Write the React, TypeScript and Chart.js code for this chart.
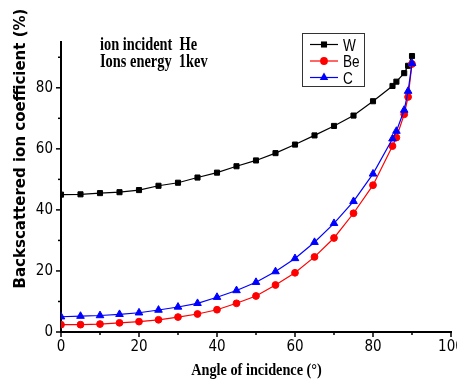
import React, { useEffect, useRef } from 'react';
import { Chart, registerables } from 'chart.js';

Chart.register(...registerables);

const angles = [0, 5, 10, 15, 20, 25, 30, 35, 40, 45, 50, 55, 60, 65, 70, 75, 80, 85, 86, 88, 89, 90];
const wValues = [45.0, 45.1, 45.5, 45.8, 46.5, 47.9, 48.9, 50.6, 52.2, 54.3, 56.2, 58.6, 61.4, 64.4, 67.5, 70.9, 75.6, 80.6, 82.0, 84.8, 87.2, 90.4];
const beValues = [2.4, 2.4, 2.6, 3.0, 3.4, 4.0, 4.9, 5.9, 7.3, 9.4, 11.8, 15.4, 19.4, 24.6, 30.8, 38.9, 48.1, 60.9, 63.7, 71.3, 77.0, 87.8];
const cValues = [5.0, 5.2, 5.4, 5.8, 6.3, 7.2, 8.2, 9.4, 11.4, 13.6, 16.3, 19.8, 24.1, 29.4, 35.6, 42.8, 51.8, 63.3, 65.8, 72.7, 78.9, 88.0];

const seriesNames = ['W', 'Be', 'C'];
const seriesColors = ['#000000', '#ff0000', '#0000ff'];
const seriesMarkers = ['rect', 'circle', 'triangle'];
const seriesRadius = [3.6, 3.4, 4.4];

const xMin = 0;
const xMax = 100;
const yMin = 0;
const yMax = 95;
const annotationLines = ['ion incident  He', 'Ions energy  1kev'];
const xTitle = 'Angle of incidence (°)';
const yTitle = 'Backscattered ion coefficient (%)';

const tickFont = "'Liberation Sans Narrow', 'DejaVu Sans Condensed', 'Liberation Sans', sans-serif";

function drawScaledText(ctx: CanvasRenderingContext2D, text: string, x: number, y: number, font: string, sx: number, align: CanvasTextAlign) {
  ctx.save();
  ctx.font = font;
  ctx.translate(x, y);
  ctx.scale(sx, 1);
  ctx.textAlign = align;
  ctx.textBaseline = 'alphabetic';
  ctx.fillStyle = '#000';
  ctx.fillText(text, 0, 0);
  ctx.restore();
}

function drawMarker(ctx: CanvasRenderingContext2D, style: string, x: number, y: number, r: number, color: string) {
  ctx.save();
  ctx.fillStyle = color;
  ctx.beginPath();
  if (style === 'rect') {
    const s = r * Math.SQRT1_2 + 0.5;
    ctx.rect(x - s, y - s, 2 * s, 2 * s);
  } else if (style === 'circle') {
    ctx.arc(x, y, r + 0.5, 0, Math.PI * 2);
  } else {
    const rr = r + 0.5;
    ctx.moveTo(x, y - rr);
    ctx.lineTo(x + rr * Math.cos(Math.PI / 6), y + rr / 2);
    ctx.lineTo(x - rr * Math.cos(Math.PI / 6), y + rr / 2);
    ctx.closePath();
  }
  ctx.fill();
  ctx.restore();
}

const decorPlugin = {
  id: 'decor',
  afterDraw(chart: any) {
    const ctx: CanvasRenderingContext2D = chart.ctx;
    const xs = chart.scales.x;
    const ys = chart.scales.y;
    const area = chart.chartArea;

    // tick marks (major / minor)
    ctx.save();
    ctx.strokeStyle = '#000';
    ctx.lineWidth = 1.5;
    xs.ticks.forEach((t: any) => {
      const px = xs.getPixelForValue(t.value);
      const len = t.value % 20 === 0 ? 5 : 3;
      ctx.beginPath();
      ctx.moveTo(px, area.bottom);
      ctx.lineTo(px, area.bottom + len);
      ctx.stroke();
    });
    ys.ticks.forEach((t: any) => {
      const py = ys.getPixelForValue(t.value);
      const len = t.value % 20 === 0 ? 5 : 3;
      ctx.beginPath();
      ctx.moveTo(area.left, py);
      ctx.lineTo(area.left - len, py);
      ctx.stroke();
    });
    ctx.restore();

    // annotation
    drawScaledText(ctx, annotationLines[0], 100, 50, "bold 18px 'Liberation Serif', serif", 0.8, 'left');
    drawScaledText(ctx, annotationLines[1], 100, 66.5, "bold 18px 'Liberation Serif', serif", 0.8, 'left');

    // x title
    drawScaledText(ctx, xTitle, 256.5, 375, "bold 17px 'Liberation Serif', serif", 0.84, 'center');

    // y title
    ctx.save();
    ctx.font = "bold 15px 'DejaVu Sans', sans-serif";
    ctx.fillStyle = '#000';
    ctx.translate(25, 148.5);
    ctx.rotate(-Math.PI / 2);
    ctx.textAlign = 'center';
    ctx.textBaseline = 'alphabetic';
    ctx.fillText(yTitle, 0, 0);
    ctx.restore();

    // legend
    const bx = 302, by = 33, bw = 62, bh = 53;
    ctx.save();
    ctx.fillStyle = '#fff';
    ctx.fillRect(bx, by, bw, bh);
    ctx.strokeStyle = '#333';
    ctx.lineWidth = 1;
    ctx.strokeRect(bx + 0.5, by + 0.5, bw, bh);
    ctx.restore();
    const rowsY = [44.5, 61, 77.5];
    seriesNames.forEach((name, i) => {
      const y = rowsY[i];
      ctx.save();
      ctx.strokeStyle = seriesColors[i];
      ctx.lineWidth = 1.2;
      ctx.beginPath();
      ctx.moveTo(310, y);
      ctx.lineTo(338, y);
      ctx.stroke();
      ctx.restore();
      drawMarker(ctx, seriesMarkers[i], 324, y, seriesRadius[i], seriesColors[i]);
      drawScaledText(ctx, name, 343, y + 6, "17px 'Liberation Sans', sans-serif", 0.8, 'left');
    });
  },
};

export default function App() {
  const ref = useRef<HTMLCanvasElement | null>(null);

  useEffect(() => {
    if (!ref.current) return;
    const series = [wValues, beValues, cValues];
    const chart = new Chart(ref.current, {
      type: 'line',
      data: {
        datasets: series.map((vals, i) => ({
          label: seriesNames[i],
          data: angles.map((a, k) => ({ x: a, y: vals[k] })),
          borderColor: seriesColors[i],
          backgroundColor: seriesColors[i],
          pointBackgroundColor: seriesColors[i],
          pointBorderColor: seriesColors[i],
          pointStyle: seriesMarkers[i] as any,
          pointRadius: seriesRadius[i],
          pointBorderWidth: 1,
          borderWidth: 1.2,
          tension: 0,
          fill: false,
          order: 3 - i,
        })),
      },
      options: {
        animation: false,
        responsive: false,
        devicePixelRatio: 1,
        layout: { padding: { top: 42, right: 6, left: 0, bottom: 0 } },
        plugins: { legend: { display: false }, tooltip: { enabled: false } },
        scales: {
          x: {
            type: 'linear',
            min: xMin,
            max: xMax,
            grid: { display: false, drawTicks: true, tickLength: 5 },
            border: { display: true, color: '#000', width: 2 },
            ticks: {
              stepSize: 10,
              includeBounds: false,
              autoSkip: false,
              maxRotation: 0,
              padding: 1,
              color: '#000',
              font: { family: tickFont, size: 15 },
              callback: (v: any) => (Number(v) % 20 === 0 ? String(v) : ''),
            },
            afterFit: (s: any) => {
              s.height = 48;
              s.paddingLeft = 0;
              s.paddingRight = 0;
            },
          },
          y: {
            type: 'linear',
            min: yMin,
            max: yMax,
            grid: { display: false, drawTicks: true, tickLength: 5 },
            border: { display: true, color: '#000', width: 2 },
            ticks: {
              stepSize: 10,
              includeBounds: false,
              autoSkip: false,
              padding: 3,
              color: '#000',
              font: { family: tickFont, size: 15 },
              callback: (v: any) => (Number(v) % 20 === 0 ? String(v) : ''),
            },
            afterFit: (s: any) => {
              s.width = 61;
              s.paddingTop = 0;
              s.paddingBottom = 0;
            },
          },
        },
      },
      plugins: [decorPlugin],
    });
    return () => chart.destroy();
  }, []);

  return (
    <div style={{ position: 'fixed', left: 0, top: 0, width: 457, height: 380, background: '#fff' }}>
      <canvas ref={ref} width={457} height={380} style={{ width: 457, height: 380, display: 'block' }} />
    </div>
  );
}
